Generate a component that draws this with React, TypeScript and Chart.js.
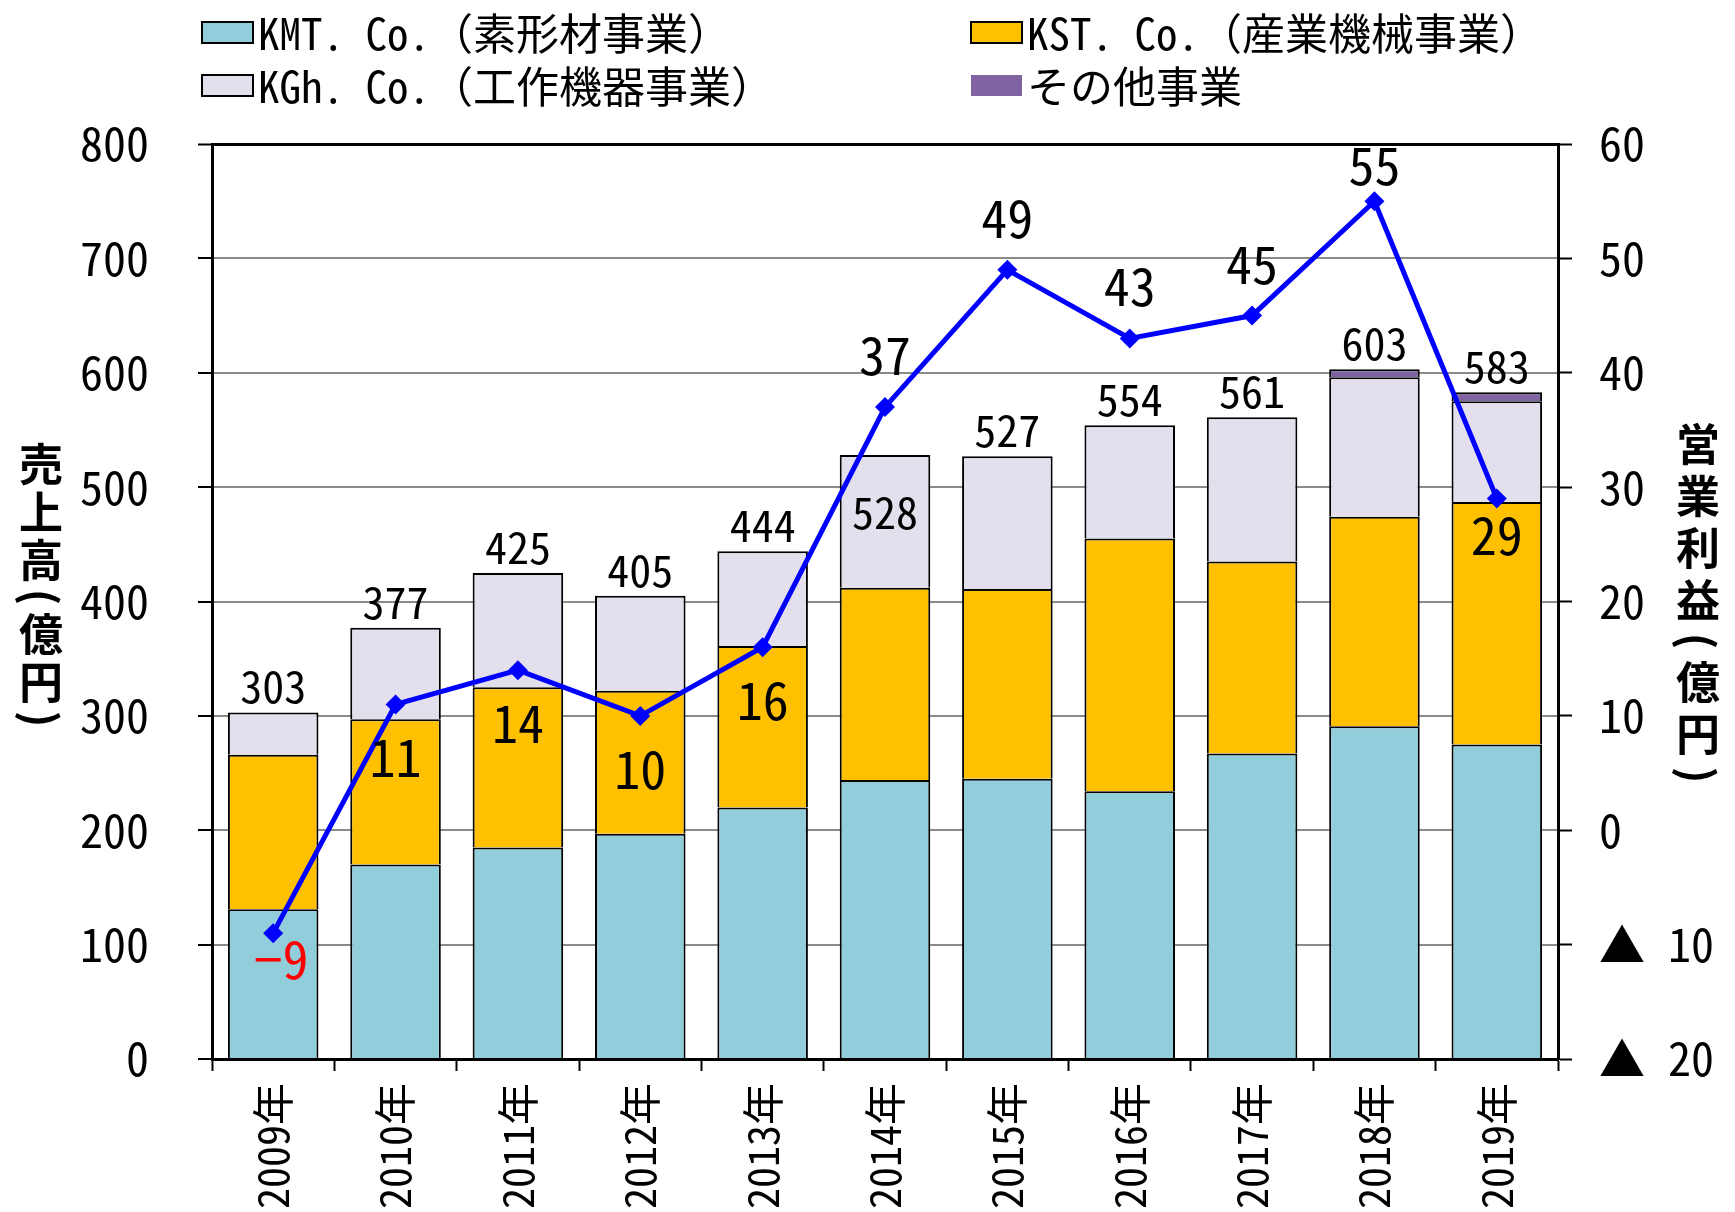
import React, { useEffect, useRef } from 'react';
import { Chart, registerables } from 'chart.js';

Chart.register(...registerables);

// ---- data ----
const years = ['2009年', '2010年', '2011年', '2012年', '2013年', '2014年', '2015年', '2016年', '2017年', '2018年', '2019年'];
const kmt = [131, 170, 185, 197, 220, 244, 245, 234, 267, 291, 275];
const kst = [135, 127, 140, 125, 141, 168, 166, 221, 168, 183, 212];
const kgh = [37, 80, 100, 83, 83, 116, 116, 99, 126, 122, 88];
const other = [0, 0, 0, 0, 0, 0, 0, 0, 0, 7, 8];
const profit = [-9, 11, 14, 10, 16, 37, 49, 43, 45, 55, 29];
const totalLabelPlacement = ['above', 'above', 'above', 'above', 'above', 'inside', 'above', 'above', 'above', 'above', 'above'];
const profitLabelPlacement = ['belowClose', 'below', 'below', 'below', 'below', 'above', 'above', 'above', 'above', 'aboveNear', 'belowNear'];
const seriesNames = ['KMT. Co.（素形材事業）', 'KST. Co.（産業機械事業）', 'KGh. Co.（工作機器事業）', 'その他事業'];
const seriesColors = ['#92CDDC', '#FFC000', '#E4DFEC', '#8064A2'];
const leftTitle = ['売', '上', '高', '(', '億', '円', ')'];
const rightTitle = ['営', '業', '利', '益', '(', '億', '円', ')'];

const CJK = "'Noto Sans CJK JP', sans-serif";
let FONT = "'Noto Sans Mono CJK JP', 'Noto Sans CJK JP', sans-serif";

function pickFont(): string {
  const c = document.createElement('canvas').getContext('2d');
  if (!c) return FONT;
  const test = '0123456789KMTCo.年';
  const cands = ['Noto Sans Mono CJK JP', 'Liberation Sans Narrow', 'DejaVu Sans Condensed', 'DejaVu Sans Mono'];
  for (const f of cands) {
    c.font = '50px monospace';
    const a = c.measureText(test).width;
    c.font = '50px serif';
    const b = c.measureText(test).width;
    c.font = `50px "${f}", monospace`;
    const a2 = c.measureText(test).width;
    c.font = `50px "${f}", serif`;
    const b2 = c.measureText(test).width;
    if (Math.abs(a2 - b2) < 0.01 && (Math.abs(a2 - a) > 0.01 || Math.abs(b2 - b) > 0.01)) {
      return `'${f}', 'Noto Sans CJK JP', sans-serif`;
    }
  }
  return FONT;
}

function drawVertical(ctx: CanvasRenderingContext2D, chars: string[], cx: number, cy: number, step: number, parenStep: number) {
  const adv = (c: string) => (c === '(' || c === ')' ? parenStep : step);
  const total = chars.reduce((s, c) => s + adv(c), 0);
  let yy = cy - total / 2;
  ctx.font = `bold 44px ${CJK}`;
  ctx.fillStyle = '#000';
  ctx.textAlign = 'center';
  ctx.textBaseline = 'middle';
  chars.forEach((c) => {
    const a = adv(c);
    const mid = yy + a / 2;
    if (c === '(' || c === ')') {
      ctx.save();
      ctx.translate(cx, mid);
      ctx.rotate(Math.PI / 2);
      ctx.fillText(c, 0, 0);
      ctx.restore();
    } else {
      ctx.fillText(c, cx, mid);
    }
    yy += a;
  });
}

const overlayPlugin = {
  id: 'overlay',
  afterDatasetsDraw(chart: any) {
    const ctx: CanvasRenderingContext2D = chart.ctx;
    const yS = chart.scales.y;
    const barMeta = chart.getDatasetMeta(1);
    const lineMeta = chart.getDatasetMeta(0);
    ctx.save();
    ctx.textAlign = 'center';
    ctx.textBaseline = 'alphabetic';
    ctx.fillStyle = '#000';
    ctx.font = `44px ${FONT}`;
    years.forEach((_, i) => {
      const total = kmt[i] + kst[i] + kgh[i] + other[i];
      const x = barMeta.data[i].x;
      const top = yS.getPixelForValue(total);
      const yy = totalLabelPlacement[i] === 'inside' ? top + 74 : top - 9;
      ctx.fillText(String(total), x, yy);
    });
    ctx.font = `52px ${FONT}`;
    profit.forEach((v, i) => {
      const pt = lineMeta.data[i];
      const p = profitLabelPlacement[i];
      let yy = pt.y;
      if (p === 'below') yy += 73;
      else if (p === 'belowNear') yy += 56;
      else if (p === 'belowClose') yy += 46;
      else if (p === 'above') yy -= 32;
      else if (p === 'aboveNear') yy -= 16;
      ctx.fillStyle = v < 0 ? '#FF0000' : '#000';
      ctx.fillText(v < 0 ? '−' + Math.abs(v) : String(v), pt.x + (v < 0 ? 8 : 0), yy);
    });
    ctx.restore();
  },
  afterDraw(chart: any) {
    const ctx: CanvasRenderingContext2D = chart.ctx;
    ctx.save();
    const colX = [202, 971];
    const rowY = [22, 75];
    seriesNames.forEach((name, k) => {
      const col = k % 2;
      const row = Math.floor(k / 2);
      const bx = colX[col];
      const by = rowY[row];
      ctx.fillStyle = seriesColors[k];
      ctx.fillRect(bx, by, 51, 21);
      if (k !== 3) {
        ctx.strokeStyle = '#000';
        ctx.lineWidth = 2;
        ctx.strokeRect(bx, by, 51, 21);
      }
      ctx.fillStyle = '#000';
      ctx.font = `43px ${FONT}`;
      ctx.textAlign = 'left';
      ctx.textBaseline = 'middle';
      ctx.fillText(name, bx + 56, by + 12);
    });
    drawVertical(ctx, leftTitle, 41, 586, 48, 26);
    drawVertical(ctx, rightTitle, 1698, 604, 52, 30);
    ctx.restore();
  },
};

export default function App() {
  const ref = useRef<HTMLCanvasElement>(null);
  useEffect(() => {
    document.body.style.margin = '0';
    FONT = pickFont();
    const canvas = ref.current;
    if (!canvas) return;
    const barDs = (i: number, arr: number[]) => ({
      type: 'bar' as const,
      label: seriesNames[i],
      data: arr.map((v) => (v === 0 ? null : v)),
      backgroundColor: seriesColors[i],
      borderColor: '#000',
      borderWidth: 2,
      barPercentage: 0.74,
      categoryPercentage: 1,
      yAxisID: 'y',
      stack: 'sales',
      order: 1,
    });
    const chart = new Chart(canvas, {
      type: 'bar',
      data: {
        labels: years,
        datasets: [
          {
            type: 'line',
            label: '営業利益',
            data: profit,
            yAxisID: 'y1',
            borderColor: '#0000FF',
            backgroundColor: '#0000FF',
            borderWidth: 5,
            pointStyle: 'rectRot',
            pointRadius: 10,
            pointBackgroundColor: '#0000FF',
            pointBorderColor: '#0000FF',
            pointBorderWidth: 0,
            tension: 0,
            order: 0,
          } as any,
          barDs(0, kmt),
          barDs(1, kst),
          barDs(2, kgh),
          barDs(3, other),
        ],
      },
      options: {
        responsive: false,
        animation: false,
        layout: { padding: { top: 144, left: 0, right: 0, bottom: 0 } },
        plugins: { legend: { display: false }, tooltip: { enabled: false } },
        scales: {
          x: {
            stacked: true,
            offset: true,
            grid: { display: true, offset: true, drawOnChartArea: false, drawTicks: true, tickLength: 12, tickColor: '#000', tickWidth: 2 },
            border: { color: '#000', width: 3, z: 1 },
            ticks: { autoSkip: false, maxRotation: 90, minRotation: 90, padding: 12, color: '#000', font: { family: FONT, size: 42 } },
            afterFit: (s: any) => { s.height = 153; },
          },
          y: {
            stacked: true,
            position: 'left',
            min: 0,
            max: 800,
            ticks: { stepSize: 100, padding: 49, color: '#000', font: { family: FONT, size: 46 } },
            grid: {
              color: (c: any) => (c.tick && c.tick.value === 800 ? '#000' : '#8a8a8a'),
              lineWidth: (c: any) => (c.tick && c.tick.value === 800 ? 3 : 2),
              tickColor: '#000',
              tickWidth: 2,
              tickLength: 14,
            },
            border: { color: '#000', width: 3 },
            afterFit: (s: any) => { s.width = 212; },
          },
          y1: {
            position: 'right',
            min: -20,
            max: 60,
            ticks: {
              stepSize: 10,
              padding: 27,
              color: '#000',
              font: { family: FONT, size: 46 },
              callback: (v: any) => (Number(v) < 0 ? '▲ ' + Math.abs(Number(v)) : String(v)),
            },
            grid: { drawOnChartArea: false, drawTicks: true, tickColor: '#000', tickWidth: 2, tickLength: 14 },
            border: { color: '#000', width: 3 },
            afterFit: (s: any) => { s.width = 177; },
          },
        },
      },
      plugins: [overlayPlugin],
    });
    return () => chart.destroy();
  }, []);
  return (
    <div style={{ width: 1735, height: 1212, position: 'relative', background: '#fff' }}>
      <canvas ref={ref} width={1735} height={1212} style={{ display: 'block' }} />
    </div>
  );
}
